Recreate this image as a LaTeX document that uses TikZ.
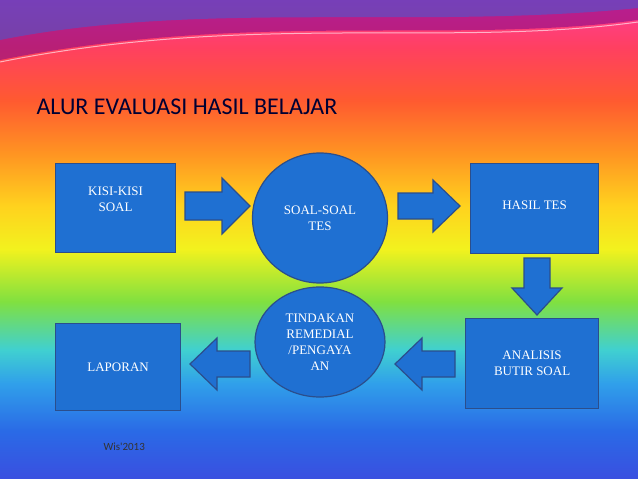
\documentclass[tikz,border=0pt]{standalone}
\usepackage{fontspec}
\setmainfont{Liberation Serif}
\newfontfamily\titlefont{Carlito}
\usetikzlibrary{shapes.geometric}
\definecolor{c0}{HTML}{3A4FE0}
\definecolor{c1}{HTML}{2A6AE6}
\definecolor{c2}{HTML}{30A0EA}
\definecolor{c3}{HTML}{40D0D0}
\definecolor{c4}{HTML}{80E040}
\definecolor{c5}{HTML}{F2F21E}
\definecolor{c6}{HTML}{FFD21E}
\definecolor{c7}{HTML}{FF9422}
\definecolor{c8}{HTML}{FF5A30}
\definecolor{c9}{HTML}{FF4060}
\definecolor{c10}{HTML}{FF3C9A}
\definecolor{boxblue}{HTML}{1F70D2}
\definecolor{edge}{HTML}{2B4E8C}
\pgfdeclareverticalshading{rainbow}{100bp}{
color(0bp)=(c0); color(25bp)=(c0); color(30bp)=(c1); color(35bp)=(c2); color(38.5bp)=(c3);
color(43.5bp)=(c4); color(49bp)=(c5); color(53.5bp)=(c6); color(59bp)=(c7);
color(64.5bp)=(c8); color(70bp)=(c9); color(75bp)=(c10); color(100bp)=(c10)}
\tikzset{
 box/.style={draw=edge,line width=1.2pt,fill=boxblue,text=white,align=center,font=\fontsize{13}{16}\selectfont,inner sep=0pt},
 blk/.style={draw=edge,line width=1.2pt,fill=boxblue}
}
\begin{document}
\begin{tikzpicture}[x=1pt,y=-1pt]
\useasboundingbox (0,0) rectangle (638,479);
\shade[shading=rainbow] (0,0) rectangle (638,479);
\fill[purple!60!blue,opacity=0.5] (0,0) -- (638,0) -- (638,20) .. controls (450,45) and (250,10) .. (0,60) -- cycle;
\fill[blue!50!cyan,opacity=0.35] (0,0) -- (638,0) -- (638,8) .. controls (420,30) and (200,0) .. (0,40) -- cycle;
\draw[white,opacity=0.6,line width=1pt] (0,62) .. controls (250,12) and (450,48) .. (638,22);
\node[anchor=west,font=\titlefont\fontsize{24}{28}\selectfont,text=black!80!blue] (title) at (33,107) {ALUR EVALUASI HASIL BELAJAR};
\node[box,minimum width=120pt,minimum height=89pt,anchor=north west,text depth=18pt] (kisi) at (55,163) {KISI-KISI\\SOAL};
\node[box,ellipse,minimum width=135pt,minimum height=130pt] (soal) at (320,218) {SOAL-SOAL\\TES};
\node[box,minimum width=128pt,minimum height=90pt,anchor=north west,text depth=6pt] (hasil) at (470,163) {HASIL TES};
\node[box,minimum width=133pt,minimum height=90pt,anchor=north west,text depth=-12pt] (anal) at (465,318) {ANALISIS\\BUTIR SOAL};
\node[box,ellipse,minimum width=130pt,minimum height=110pt] (tind) at (320,342) {TINDAKAN\\REMEDIAL\\/PENGAYA\\AN};
\node[box,minimum width=125pt,minimum height=87pt,anchor=north west] (lap) at (55,323) {LAPORAN};
\node[anchor=west,font=\titlefont\fontsize{11}{13}\selectfont,text=black!80] (wis) at (100,447) {Wis'2013};
\draw[blk] (185,192) -- (222,192) -- (222,178) -- (250,206) -- (222,234) -- (222,220) -- (185,220) -- cycle;
\draw[blk] (398,193) -- (433,193) -- (433,180) -- (460,206) -- (433,232) -- (433,219) -- (398,219) -- cycle;
\draw[blk] (524,258) -- (550,258) -- (550,288) -- (562,288) -- (537,315) -- (512,288) -- (524,288) -- cycle;
\draw[blk] (455,351) -- (422,351) -- (422,338) -- (395,364) -- (422,390) -- (422,377) -- (455,377) -- cycle;
\draw[blk] (250,351) -- (217,351) -- (217,338) -- (190,364) -- (217,390) -- (217,377) -- (250,377) -- cycle;
\end{tikzpicture}
\end{document}
